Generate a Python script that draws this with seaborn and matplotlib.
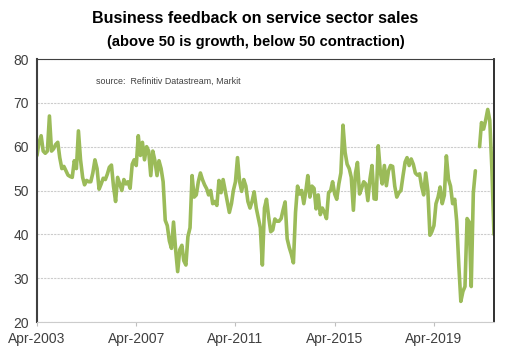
import numpy as np
import pandas as pd
import matplotlib
matplotlib.use("Agg")
import matplotlib.pyplot as plt
import matplotlib.dates as mdates
import seaborn as sns

# --- data: monthly index, Apr-2003 onwards ---
start_month = "2003-04-01"
sales_index = [
    58, 61, 62.5, 59, 58.5, 59, 67, 59, 59.5, 60.5,
    61, 57.5, 55, 55.5, 54.5, 53.5, 53.2, 53, 56.8, 55,
    63.6, 57, 53, 51.3, 52.3, 52, 52, 54, 57, 55,
    50.3, 51.5, 52.8, 52.5, 53.8, 55.3, 55.8, 51, 47.5, 53,
    51.5, 50, 52.5, 51.5, 52, 50.5, 56, 57, 55.7, 62.5,
    58, 61, 57, 60, 59, 53.4, 59, 56.8, 53.4, 56.8,
    55, 52, 43.2, 42, 38.5, 36.8, 42.8, 36.5, 31.5, 36.5,
    37.5, 34, 33, 39.5, 41.5, 53.4, 48.5, 49, 52, 54,
    52.5, 51.3, 50.4, 49, 50, 47, 47.5, 46.6, 52.3, 49.5,
    52.5, 50, 47.7, 45, 47, 50, 52, 57.5, 52, 49.8,
    52.5, 51, 47.5, 46, 47.5, 49.7, 46, 43.8, 41.5, 33,
    46, 48, 44, 40.6, 41, 43.5, 43, 43, 43.6, 45.5,
    47.4, 39, 37, 35.5, 33.5, 45, 51, 49.2, 50, 47,
    50, 53.4, 48.5, 51, 50.5, 45.8, 49, 44.5, 46, 45,
    43.6, 49.5, 50, 52, 49.2, 48, 51.5, 54, 64.9, 58.7,
    56, 55, 53, 45.5, 54, 56.4, 49.2, 50.5, 52, 51.5,
    47.7, 52.6, 55.7, 48.1, 48, 60.2, 54.2, 51.5, 55.7, 51.1,
    54.5, 55.7, 55.5, 51, 48.5, 49.5, 50, 53.4, 56.5, 57.5,
    55.7, 57.2, 56, 54, 53.5, 53.8, 51, 49, 54, 50,
    39.8, 40.6, 42, 47, 48.5, 50.8, 47, 48.9, 57.9, 52.6,
    51, 47, 48, 43, 33, 24.7, 27, 28.1, 43.6, 42.8,
    28.1, 49.5, 54.5, np.nan, 60, 65.5, 64, 66, 68.5, 66, 55, 40,
]
tick_labels = ["Apr-2003", "Apr-2007", "Apr-2011", "Apr-2015", "Apr-2019"]

dates = pd.date_range(start_month, periods=len(sales_index), freq="MS")
df = pd.DataFrame({"date": dates, "value": sales_index})
# break the line where a month is missing
df["segment"] = df["value"].isna().cumsum()
df = df.dropna()

# --- plot ---
sns.set_style("white")
plt.rcParams["font.family"] = ["Liberation Sans", "DejaVu Sans"]

fig = plt.figure(figsize=(5.11, 3.57), dpi=100)
ax = fig.add_axes([0.0724, 0.098, 0.8943, 0.7367])

sns.lineplot(data=df, x="date", y="value", units="segment", estimator=None,
             color="#9bbb59", linewidth=2.6, ax=ax)

ax.set_ylim(20, 80)
ax.set_yticks(range(20, 81, 10))
ax.set_xlim(dates[0], dates[-1])
ax.set_xticks(pd.to_datetime(tick_labels, format="%b-%Y"))
ax.xaxis.set_major_formatter(mdates.DateFormatter("%b-%Y"))
ax.set_xlabel("")
ax.set_ylabel("")

ax.yaxis.grid(True, color="#cccccc", linestyle=(0, (2, 1)), linewidth=0.8)
ax.set_axisbelow(True)
ax.tick_params(axis="y", length=0, labelsize=10, labelcolor="#404040", pad=6)
ax.tick_params(axis="x", length=3, color="#bfbfbf", labelsize=10,
               labelcolor="#404040", pad=4, direction="out", bottom=True)

for side in ["left", "right", "top"]:
    ax.spines[side].set_visible(True)
ax.spines["left"].set_color("#404040")
ax.spines["left"].set_linewidth(1.5)
ax.spines["right"].set_color("#202020")
ax.spines["right"].set_linewidth(1.3)
ax.spines["top"].set_color("#404040")
ax.spines["top"].set_linewidth(0.8)
ax.spines["bottom"].set_color("#cccccc")
ax.spines["bottom"].set_linewidth(0.8)

ax.text(0.13, 0.915, "source:  Refinitiv Datastream, Markit", transform=ax.transAxes,
        fontsize=6.4, color="#404040", va="center")

fig.text(0.5, 0.948, "Business feedback on service sector sales", ha="center",
         va="center", fontsize=11.5, fontweight="bold", color="black")
fig.text(0.5, 0.882, "(above 50 is growth, below 50 contraction)", ha="center",
         va="center", fontsize=10.6, fontweight="bold", color="black")

fig.savefig("out.png", dpi=100)
